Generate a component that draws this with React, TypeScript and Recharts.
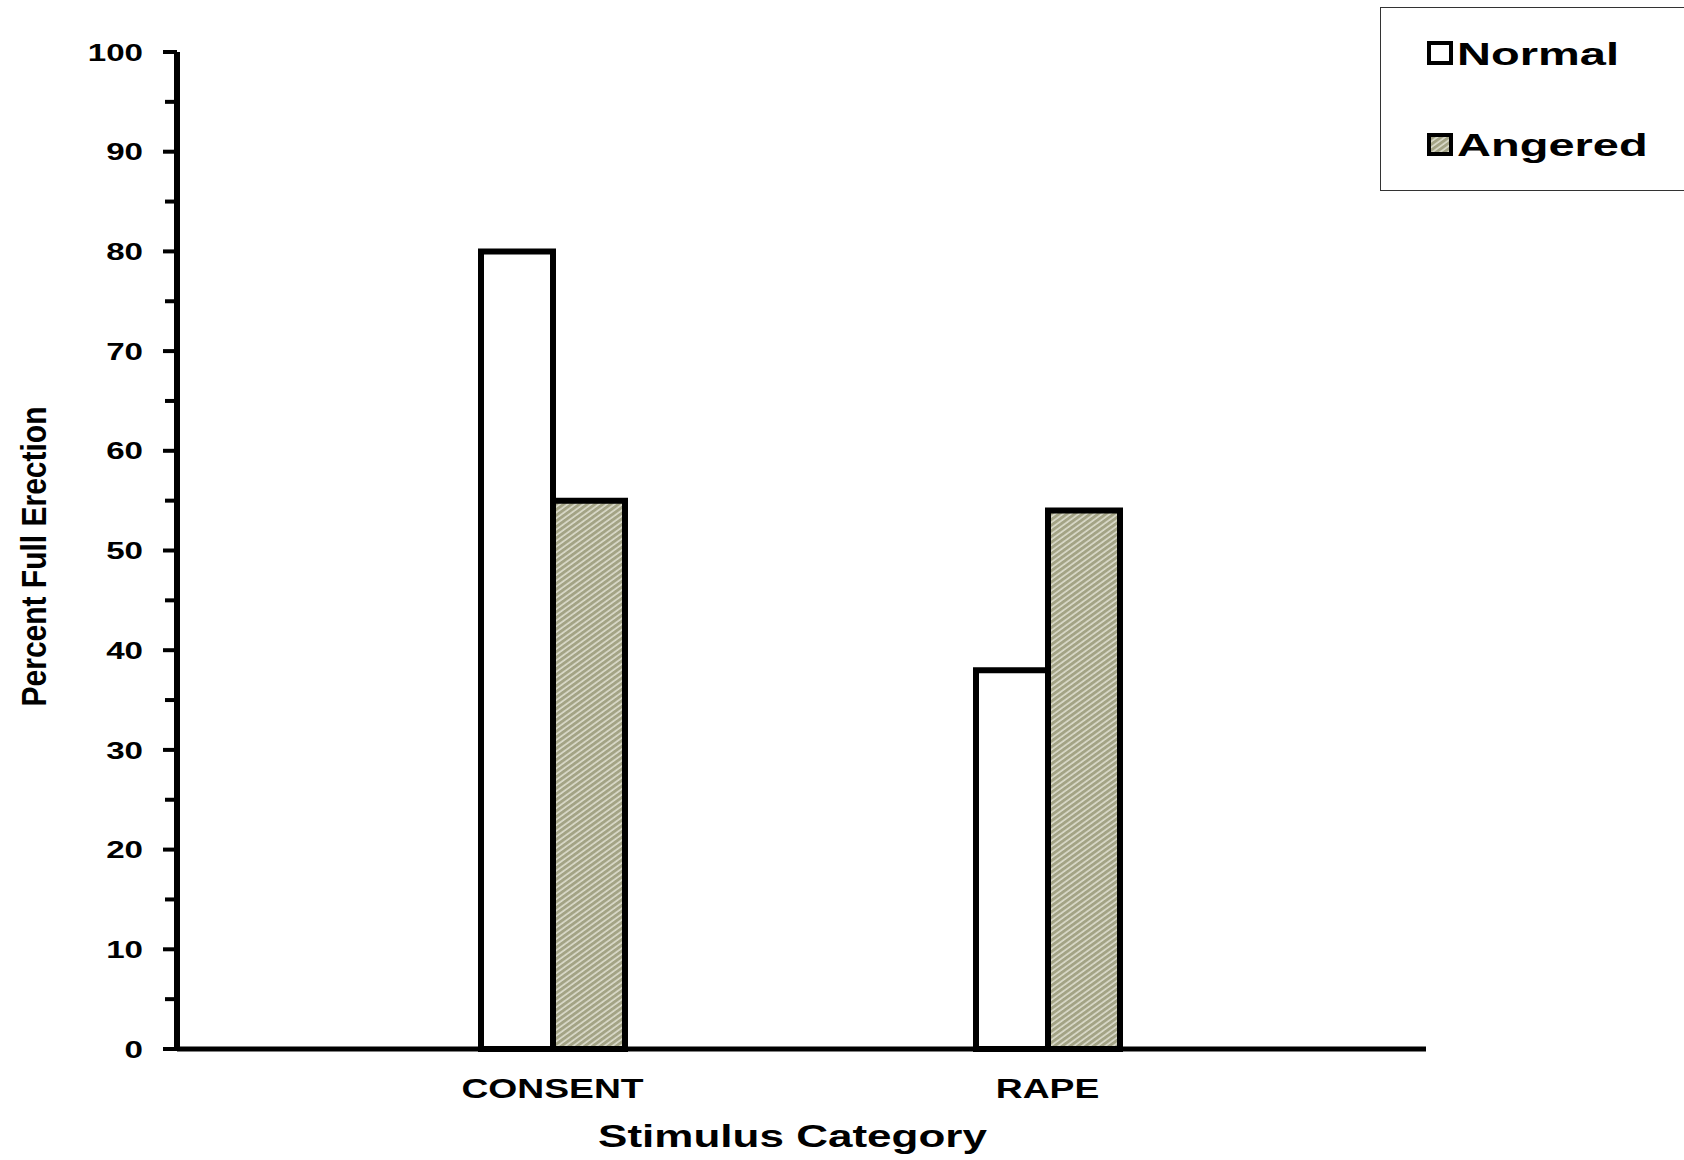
import React from "react";
import { Bar, BarChart, Label, Legend, XAxis, YAxis } from "recharts";

const categories = ["CONSENT", "RAPE"];
const normalValues = [80, 38];
const angeredValues = [55, 54];
const yTicks = [0, 5, 10, 15, 20, 25, 30, 35, 40, 45, 50, 55, 60, 65, 70, 75, 80, 85, 90, 95, 100];

const data = categories.map((name, i) => ({
  name,
  normal: normalValues[i],
  angered: angeredValues[i],
}));

const FONT = "'Liberation Sans', Arial, sans-serif";
const STRETCH = 1.38;
const HATCH_BASE = "#a3a385";
const HATCH_LINE = "#e2e2d4";

const HatchPattern = ({ id }: { id: string }) => (
  <pattern id={id} width={4.6} height={4.6} patternUnits="userSpaceOnUse" patternTransform="rotate(54)">
    <rect width={4.6} height={4.6} fill={HATCH_BASE} />
    <line x1={1} y1={0} x2={1} y2={4.6} stroke={HATCH_LINE} strokeWidth={1.5} />
  </pattern>
);

const YTick = (props: any) => {
  const { x, y, payload } = props;
  const major = payload.value % 10 === 0;
  return (
    <g>
      <line x1={x - (major ? 14 : 12)} x2={x} y1={y} y2={y} stroke="#000" strokeWidth={4} />
      {major && (
        <text
          transform={`translate(${x - 34},${y}) scale(${STRETCH},1)`}
          textAnchor="end"
          dy="0.36em"
          fontFamily={FONT}
          fontWeight="bold"
          fontSize={24}
          fill="#000"
        >
          {payload.value}
        </text>
      )}
    </g>
  );
};

const XTick = (props: any) => {
  const { x, y, payload } = props;
  return (
    <text
      transform={`translate(${x},${y + 39}) scale(${STRETCH},1)`}
      textAnchor="middle"
      dy="0.36em"
      fontFamily={FONT}
      fontWeight="bold"
      fontSize={27}
      fill="#000"
    >
      {payload.value}
    </text>
  );
};

const XTitle = (props: any) => {
  const { viewBox } = props;
  const cx = viewBox.x + viewBox.width / 2 - 9;
  return (
    <text
      transform={`translate(${cx},${viewBox.y + 87}) scale(1.42,1)`}
      textAnchor="middle"
      dy="0.36em"
      fontFamily={FONT}
      fontWeight="bold"
      fontSize={31}
      fill="#000"
    >
      Stimulus Category
    </text>
  );
};

const YTitle = (props: any) => {
  const { viewBox } = props;
  const cy = viewBox.y + viewBox.height / 2 + 6;
  return (
    <text
      transform={`translate(${viewBox.x + 34},${cy}) rotate(-90) scale(1,1.15)`}
      textAnchor="middle"
      dy="0.36em"
      fontFamily={FONT}
      fontWeight="bold"
      fontSize={30}
      fill="#000"
    >
      Percent Full Erection
    </text>
  );
};

const LegendBox = () => (
  <div
    style={{
      width: 320,
      height: 184,
      border: "1.5px solid #333",
      boxSizing: "border-box",
      background: "#fff",
    }}
  >
    <svg width={320} height={184} style={{ position: "absolute", left: 0, top: 0 }}>
      <defs>
        <HatchPattern id="legendHatch" />
      </defs>
      <rect x={49} y={36} width={22} height={20} fill="#fff" stroke="#000" strokeWidth={4} />
      <text
        transform={`translate(77,58) scale(1.47,1)`}
        fontFamily={FONT}
        fontWeight="bold"
        fontSize={32}
        fill="#000"
      >
        Normal
      </text>
      <rect x={49} y={128} width={22} height={19} fill="url(#legendHatch)" stroke="#000" strokeWidth={4} />
      <text
        transform={`translate(77,149) scale(1.47,1)`}
        fontFamily={FONT}
        fontWeight="bold"
        fontSize={32}
        fill="#000"
      >
        Angered
      </text>
    </svg>
  </div>
);

export default function App() {
  return (
    <div style={{ position: "absolute", left: 0, top: 0, background: "#fff" }}>
      <BarChart
        width={1684}
        height={1160}
        data={data}
        margin={{ top: 52, right: 258, bottom: 0, left: 0 }}
        barGap={0}
        barSize={72}
      >
        <defs>
          <HatchPattern id="angeredHatch" />
        </defs>
        <XAxis
          dataKey="name"
          height={111}
          padding={{ left: 128, right: 131 }}
          axisLine={{ stroke: "#000", strokeWidth: 5 }}
          tickLine={false}
          tickSize={0}
          tickMargin={0}
          tick={<XTick />}
          interval={0}
        >
          <Label content={<XTitle />} />
        </XAxis>
        <YAxis
          width={177}
          domain={[0, 100]}
          ticks={yTicks}
          interval={0}
          axisLine={{ stroke: "#000", strokeWidth: 6 }}
          tickLine={false}
          tickSize={0}
          tickMargin={0}
          tick={<YTick />}
        >
          <Label content={<YTitle />} />
        </YAxis>
        <Legend
          layout="horizontal"
          verticalAlign="middle"
          align="center"
          content={<LegendBox />}
          wrapperStyle={{ position: "absolute", left: 1380, top: 7, width: 320, height: 184 }}
        />
        <Bar dataKey="normal" name="Normal" fill="#fff" stroke="#000" strokeWidth={6} isAnimationActive={false} />
        <Bar
          dataKey="angered"
          name="Angered"
          fill="url(#angeredHatch)"
          stroke="#000"
          strokeWidth={6}
          isAnimationActive={false}
        />
      </BarChart>
    </div>
  );
}
